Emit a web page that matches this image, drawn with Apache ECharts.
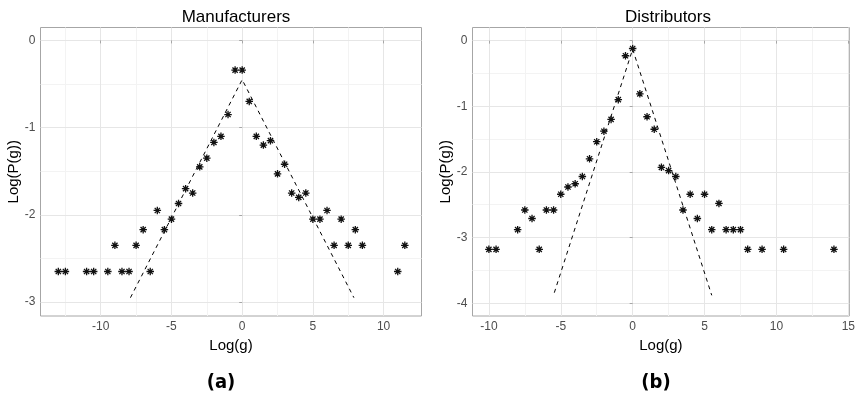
<!DOCTYPE html>
<html>
<head>
<meta charset="utf-8">
<script src="https://cdn.jsdelivr.net/npm/echarts@6/dist/echarts.min.js"></script>
<style>html,body{margin:0;padding:0;background:#fff}#c{width:858px;height:395px}</style>
</head>
<body>
<div id="c"></div>
<script>
// Manufacturers (a)
const manuX = [-13, -12.5, -11, -10.5, -9.5, -9, -8.5, -8, -7.5, -7, -6.5, -6, -5.5, -5, -4.5, -4, -3.5, -3, -2.5, -2, -1.5, -1, -0.5, 0, 0.5, 1, 1.5, 2, 2.5, 3, 3.5, 4, 4.5, 5, 5.5, 6, 6.5, 7, 7.5, 8, 8.5, 11, 11.5];
const manuY = [-2.65, -2.65, -2.65, -2.65, -2.65, -2.35, -2.65, -2.65, -2.35, -2.17, -2.65, -1.95, -2.17, -2.05, -1.87, -1.70, -1.75, -1.45, -1.35, -1.17, -1.10, -0.85, -0.34, -0.34, -0.70, -1.10, -1.20, -1.15, -1.53, -1.42, -1.75, -1.80, -1.75, -2.05, -2.05, -1.95, -2.35, -2.05, -2.35, -2.17, -2.35, -2.65, -2.35];
const manuFitX = [-7.9, 0, 7.9];
const manuFitY = [-2.95, -0.45, -2.95];

// Distributors (b)
const distX = [-10, -9.5, -8, -7.5, -7, -6.5, -6, -5.5, -5, -4.5, -4, -3.5, -3, -2.5, -2, -1.5, -1, -0.5, 0, 0.5, 1, 1.5, 2, 2.5, 3, 3.5, 4, 4.5, 5, 5.5, 6, 6.5, 7, 7.5, 8, 9, 10.5, 14];
const distY = [-3.18, -3.18, -2.88, -2.58, -2.71, -3.18, -2.58, -2.58, -2.34, -2.23, -2.18, -2.07, -1.80, -1.54, -1.38, -1.20, -0.90, -0.23, -0.12, -0.81, -1.16, -1.35, -1.93, -1.98, -2.07, -2.58, -2.34, -2.71, -2.34, -2.88, -2.48, -2.88, -2.88, -2.88, -3.18, -3.18, -3.18, -3.18];
const distFitX = [-5.45, 0, 5.5];
const distFitY = [-3.84, -0.13, -3.88];

// tick labels
const manuXTicks = [-10, -5, 0, 5, 10];
const manuYTicks = [-3, -2, -1, 0];
const distXTicks = [-10, -5, 0, 5, 10, 15];
const distYTicks = [-4, -3, -2, -1, 0];
const manuXMinor = [-12.5, -7.5, -2.5, 2.5, 7.5];
const manuYMinor = [-2.5, -1.5, -0.5];
const distXMinor = [-7.5, -2.5, 2.5, 7.5, 12.5];
const distYMinor = [-3.5, -2.5, -1.5, -0.5];

const titles = ['Manufacturers', 'Distributors'];
const captions = ['(a)', '(b)'];
const xName = 'Log(g)';
const yName = 'Log(P(g))';

const FONT = '"Liberation Sans", Arial, sans-serif';
const CAPFONT = '"Liberation Sans Narrow", "DejaVu Sans Condensed", "Liberation Sans", sans-serif';
const starPath = 'path://M5,0L5,10M0,5L10,5M1.5,1.5L8.5,8.5M1.5,8.5L8.5,1.5';

function zip(a, b) { return a.map((v, i) => [v, b[i]]); }

function gridLines(gi, xMaj, xMin, yMaj, yMin) {
  const d = [];
  xMin.forEach(v => d.push({ xAxis: v, lineStyle: { color: '#f3f3f3', width: 1 } }));
  yMin.forEach(v => d.push({ yAxis: v, lineStyle: { color: '#f3f3f3', width: 1 } }));
  xMaj.forEach(v => d.push({ xAxis: v, lineStyle: { color: '#e6e6e6', width: 1 } }));
  yMaj.forEach(v => d.push({ yAxis: v, lineStyle: { color: '#e6e6e6', width: 1 } }));
  return {
    type: 'line', xAxisIndex: gi, yAxisIndex: gi, data: [], z: 1, silent: true,
    markLine: { silent: true, z: 0, zlevel: 0, symbol: ['none', 'none'], label: { show: false },
      lineStyle: { type: 'solid' }, animation: false, data: d }
  };
}

function xAxis(gi, min, max, ticks) {
  return {
    gridIndex: gi, type: 'value', min: min, max: max,
    axisLine: { show: false },
    axisTick: { show: true, customValues: ticks, length: 3, lineStyle: { color: '#a6a6a6' } },
    axisLabel: { customValues: ticks, color: '#4d4d4d', fontSize: 12, fontFamily: FONT, margin: 5,
      formatter: v => String(Math.round(v)) },
    splitLine: { show: false },
    name: xName, nameLocation: 'middle', nameGap: 17,
    nameTextStyle: { fontSize: 15, color: '#000', fontFamily: FONT, verticalAlign: 'top' }
  };
}
function yAxis(gi, min, max, ticks) {
  return {
    gridIndex: gi, type: 'value', min: min, max: max,
    axisLine: { show: false },
    axisTick: { show: true, customValues: ticks, length: 3, lineStyle: { color: '#a6a6a6' } },
    axisLabel: { customValues: ticks, color: '#4d4d4d', fontSize: 12, fontFamily: FONT, margin: 5,
      formatter: v => String(Math.round(v)) },
    splitLine: { show: false },
    name: yName, nameLocation: 'middle', nameGap: 19, nameRotate: 90,
    nameTextStyle: { fontSize: 15, color: '#000', fontFamily: FONT }
  };
}

function scatter(gi, xs, ys) {
  return {
    type: 'scatter', xAxisIndex: gi, yAxisIndex: gi, data: zip(xs, ys), z: 10,
    symbol: starPath, symbolSize: 7.5, symbolKeepAspect: true,
    itemStyle: { color: '#000', borderColor: '#111', borderWidth: 1.3, opacity: 1 },
    emphasis: { disabled: true }
  };
}
function fit(gi, xs, ys) {
  return {
    type: 'line', xAxisIndex: gi, yAxisIndex: gi, data: zip(xs, ys), z: 8,
    showSymbol: false, symbol: 'none',
    lineStyle: { color: '#000', width: 1, type: [4, 4] }
  };
}

const chart = echarts.init(document.getElementById('c'), null, { renderer: 'canvas' });
chart.setOption({
  animation: false,
  backgroundColor: '#fff',
  title: [
    { text: titles[0], left: 231, top: 4, textAlign: 'center',
      textStyle: { fontSize: 17, fontWeight: 'normal', color: '#000', fontFamily: FONT } },
    { text: titles[1], left: 663, top: 4, textAlign: 'center',
      textStyle: { fontSize: 17, fontWeight: 'normal', color: '#000', fontFamily: FONT } },
    { text: captions[0], left: 216, top: 368, textAlign: 'center',
      textStyle: { fontSize: 20, fontWeight: 'bold', color: '#000', fontFamily: CAPFONT } },
    { text: captions[1], left: 651, top: 368, textAlign: 'center',
      textStyle: { fontSize: 20, fontWeight: 'bold', color: '#000', fontFamily: CAPFONT } }
  ],
  grid: [
    { left: 40.5, top: 27.5, right: 436.5, bottom: 79, show: true, borderColor: '#a6a6a6', borderWidth: 1, backgroundColor: 'transparent', containLabel: false },
    { left: 472.5, top: 27.5, right: 5.5, bottom: 79, show: true, borderColor: '#a6a6a6', borderWidth: 1, backgroundColor: 'transparent', containLabel: false }
  ],
  xAxis: [ xAxis(0, -14.26, 12.68, manuXTicks), xAxis(1, -11.14, 15.07, distXTicks) ],
  yAxis: [ yAxis(0, -3.16, 0.148, manuYTicks), yAxis(1, -4.195, 0.2, distYTicks) ],
  series: [
    gridLines(0, manuXTicks, manuXMinor, manuYTicks, manuYMinor),
    gridLines(1, distXTicks, distXMinor, distYTicks, distYMinor),
    fit(0, manuFitX, manuFitY),
    fit(1, distFitX, distFitY),
    scatter(0, manuX, manuY),
    scatter(1, distX, distY)
  ]
});
</script>
</body>
</html>
